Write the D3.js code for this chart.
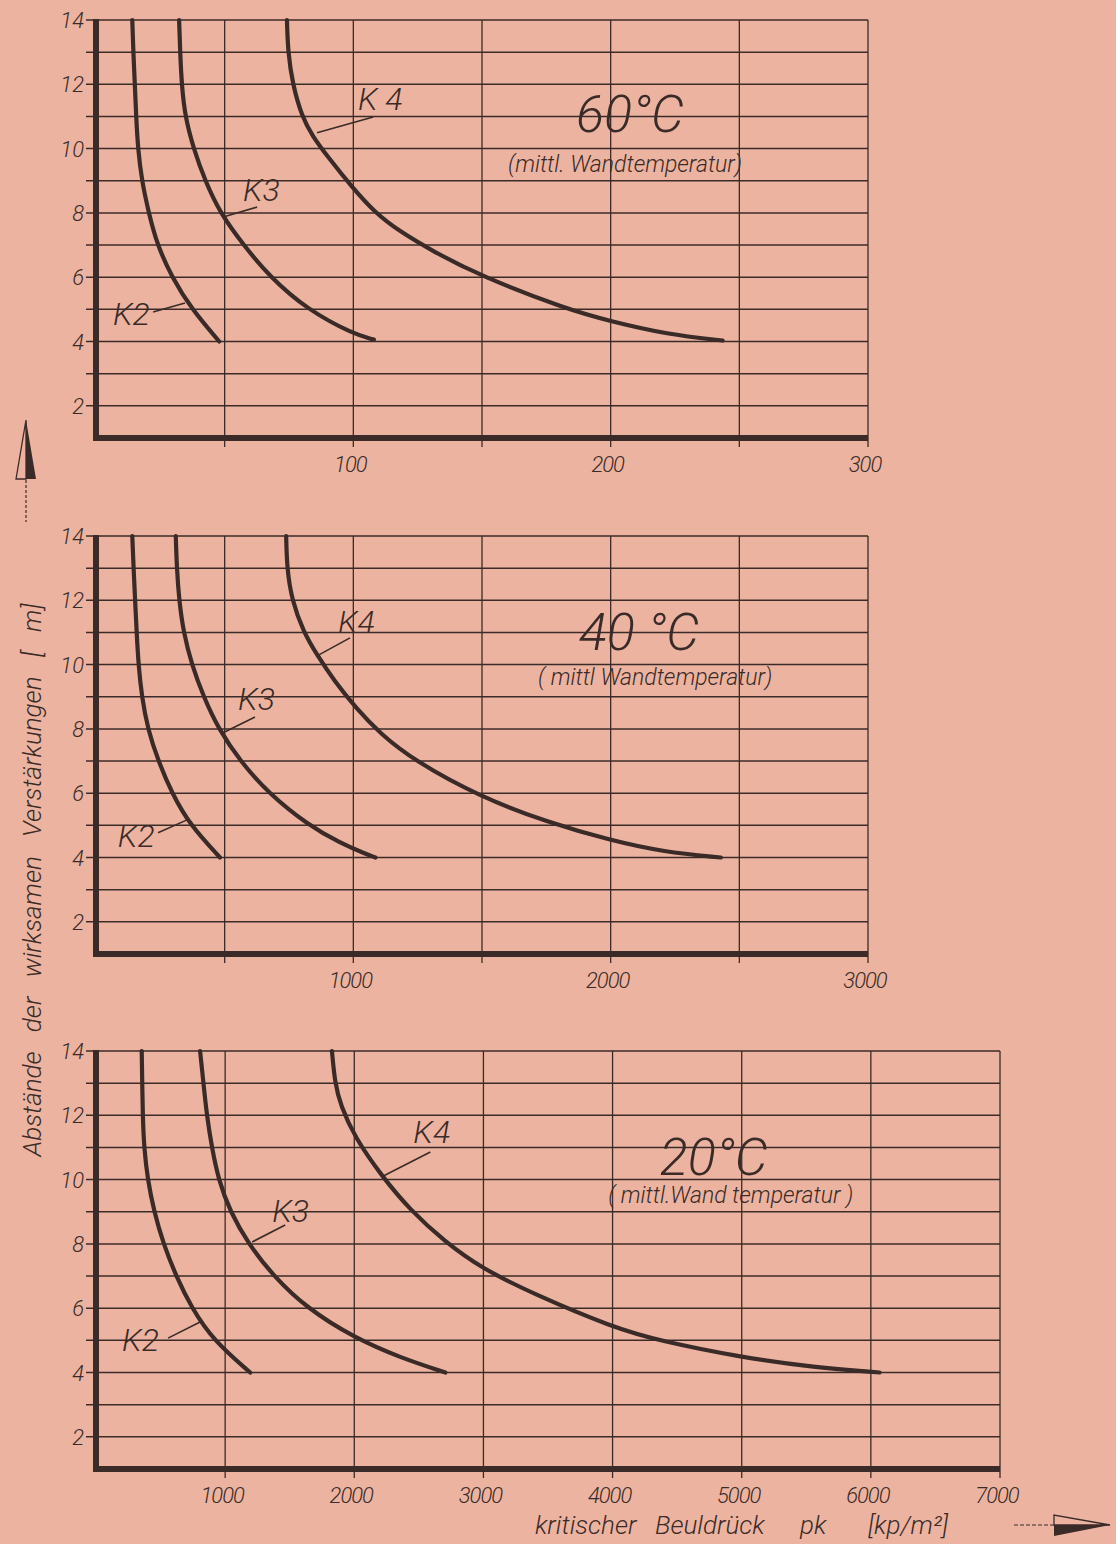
<!DOCTYPE html>
<html>
<head>
<meta charset="utf-8">
<script src="https://cdn.jsdelivr.net/npm/d3@7/dist/d3.min.js"></script>
<style>
  html, body { margin: 0; padding: 0; background: #ecb4a0; }
  svg { display: block; }
  text { font-family: Roboto, "DejaVu Sans Condensed", sans-serif; font-style: italic; font-weight: 300; fill: #3b2b28; }
</style>
</head>
<body>
<svg id="chart" width="1116" height="1544"></svg>
<script>
// curve points: [pressure, distance]
const k2_60 = [[14.1,14],[14.5,13],[15.1,12],[15.6,11],[16.3,10],[17.8,9],[20.5,8],[23.8,7],[29.5,6],[37.2,5],[47.9,4]];
const k3_60 = [[32.3,14],[32.7,13],[33.3,12],[34.6,11],[37.9,10],[42.4,9],[48.2,8],[57.3,7],[67.7,6],[82,5],[100,4.23],[108,4.06]];
const k4_60 = [[74.2,14],[74.6,13],[76.4,12],[80,11],[84,10.4],[90.5,9.7],[99.5,8.8],[108.5,8],[117.5,7.45],[131,6.8],[149.4,6.04],[183,5.0],[200,4.63],[222,4.22],[243.5,4.03]];

const k2_40 = [[141,14],[146,13],[152,12],[158,11],[165,10],[178,9],[201,8],[242,7],[295,6],[366,5],[482,4]];
const k3_40 = [[310,14],[314,13],[323,12],[340,11],[372,10],[418,9],[476,8],[560,7],[670,6],[826,5],[950,4.45],[1045,4.12],[1086,4.0]];
const k4_40 = [[739,14],[742,13],[761,12],[807,11],[859,10.3],[925,9.5],[1012,8.63],[1105,7.85],[1235,7.02],[1494,5.88],[1754,5.1],[2000,4.53],[2207,4.17],[2428,4.0]];

const k2_20 = [[354,14],[358,13],[362,12],[372,11],[400,10],[450,9],[522,8],[620,7],[742,6],[909,5],[1194,4]];
const k3_20 = [[806,14],[832,13],[858,12],[897,11],[948,10],[1039,9],[1180,8],[1374,7],[1633,6],[2000,5.08],[2357,4.46],[2705,4.0]];
const k4_20 = [[1827,14],[1850,13],[1895,12.3],[2000,11.34],[2214,10.1],[2434,9.05],[2693,8.1],[2990,7.23],[3390,6.44],[4003,5.4],[4372,4.98],[5000,4.47],[5564,4.16],[6067,4.0]];

const curveNames = ["K2", "K3", "K4"];
const yTickLabels = [2, 4, 6, 8, 10, 12, 14];
const xTicks60 = [100, 200, 300];
const xTicks40 = [1000, 2000, 3000];
const xTicks20 = [1000, 2000, 3000, 4000, 5000, 6000, 7000];
const titles = ["60°C", "40 °C", "20°C"];
const subtitles = ["(mittl. Wandtemperatur)", "( mittl Wandtemperatur)", "( mittl.Wand temperatur )"];
const yTitleWords = ["Abstände", "der", "wirksamen", "Verstärkungen", "[ m]"];
const xTitleWords = ["kritischer", "Beuldrück", "pk", "[kp/m²]"];
const xTitleStarts = [535, 655, 800, 868];

// label anchor [x, y], leader line [x1, y1, x2, y2] in data units
const labels60 = [[6.6,4.51,22.2,4.92,34.6,5.2],[57.1,8.37,62.6,8.18,49.4,7.87],[101.8,11.2,107.7,10.98,85.9,10.49]];
const labels40 = [[85,4.33,241,4.77,354,5.17],[552,8.59,618,8.37,494,7.88],[940,10.98,987,10.83,859,10.27]];
const labels20 = [[202,4.67,558,5.07,806,5.57],[1364,8.68,1465,8.59,1209,8.06],[2457,11.14,2589,10.86,2225,10.11]];
const titlePos60 = [207.5, 10.52, 205.6, 9.27];
const titlePos40 = [2110, 10.45, 2173, 9.36];
const titlePos20 = [4783, 10.14, 4915, 9.27];

const ink = "#3b2b28";
const svg = d3.select("#chart");

const panels = [
  {top: 20, right: 868, xmax: 300, gridStep: 50, ticks: xTicks60, curves: [k2_60, k3_60, k4_60], labels: labels60, title: titles[0], sub: subtitles[0], tpos: titlePos60},
  {top: 536, right: 868, xmax: 3000, gridStep: 500, ticks: xTicks40, curves: [k2_40, k3_40, k4_40], labels: labels40, title: titles[1], sub: subtitles[1], tpos: titlePos40},
  {top: 1051, right: 1000, xmax: 7000, gridStep: 1000, ticks: xTicks20, curves: [k2_20, k3_20, k4_20], labels: labels20, title: titles[2], sub: subtitles[2], tpos: titlePos20}
];

panels.forEach(p => {
  const x = d3.scaleLinear().domain([0, p.xmax]).range([96, p.right]);
  const y = d3.scaleLinear().domain([1, 14]).range([p.top + 13 * 32.15, p.top]);
  const g = svg.append("g");

  // horizontal grid with ticks sticking out left
  g.selectAll(".hgrid").data(d3.range(2, 15)).join("line")
    .attr("x1", 86).attr("x2", p.right)
    .attr("y1", d => y(d)).attr("y2", d => y(d))
    .attr("stroke", ink).attr("stroke-width", 1.5);

  // vertical grid
  const vg = d3.range(p.gridStep, p.xmax + 1, p.gridStep);
  g.selectAll(".vgrid").data(vg).join("line")
    .attr("x1", d => x(d)).attr("x2", d => x(d))
    .attr("y1", y(14)).attr("y2", y(1) + 9)
    .attr("stroke", ink).attr("stroke-width", 1.3);

  // thick axes
  g.append("line").attr("x1", 96).attr("x2", 96).attr("y1", y(14) - 1).attr("y2", y(1) + 3)
    .attr("stroke", ink).attr("stroke-width", 6);
  g.append("line").attr("x1", 93).attr("x2", p.right).attr("y1", y(1)).attr("y2", y(1))
    .attr("stroke", ink).attr("stroke-width", 6);

  // y labels
  g.selectAll(".ylab").data(yTickLabels).join("text")
    .attr("x", 84).attr("y", d => y(d) + 8)
    .attr("text-anchor", "end").attr("font-size", 22)
    .text(d => d);

  // x labels
  g.selectAll(".xlab").data(p.ticks).join("text")
    .attr("x", d => x(d) - 3).attr("y", y(1) + 34)
    .attr("text-anchor", "middle").attr("font-size", 22)
    .attr("letter-spacing", -1)
    .text(d => d);

  // curves
  const line = d3.line().x(d => x(d[0])).y(d => y(d[1])).curve(d3.curveBasis);
  g.selectAll(".curve").data(p.curves).join("path")
    .attr("d", line).attr("fill", "none")
    .attr("stroke", ink).attr("stroke-width", 4.2).attr("stroke-linecap", "round");

  // curve labels with leader lines
  p.labels.forEach((l, i) => {
    g.append("line")
      .attr("x1", x(l[2])).attr("y1", y(l[3])).attr("x2", x(l[4])).attr("y2", y(l[5]))
      .attr("stroke", ink).attr("stroke-width", 1.6);
    g.append("text").attr("x", x(l[0])).attr("y", y(l[1]))
      .attr("font-size", 32)
      .text(i === 2 && p.xmax === 300 ? "K 4" : curveNames[i]);
  });

  // title
  g.append("text").attr("x", x(p.tpos[0])).attr("y", y(p.tpos[1]))
    .attr("text-anchor", "middle").attr("font-size", 52)
    .text(p.title);
  g.append("text").attr("x", x(p.tpos[2])).attr("y", y(p.tpos[3]))
    .attr("text-anchor", "middle").attr("font-size", 23)
    .text(p.sub);
});

// y axis title and arrow
svg.append("text")
  .attr("transform", "translate(41,880) rotate(-90)")
  .attr("text-anchor", "middle").attr("font-size", 26)
  .attr("word-spacing", 13)
  .text(yTitleWords.join(" "));
svg.append("line").attr("x1", 26).attr("x2", 26).attr("y1", 480).attr("y2", 522)
  .attr("stroke", ink).attr("stroke-width", 1.2).attr("stroke-dasharray", "3,2");
svg.append("path").attr("d", "M26,420 L16,479 L26,479 Z").attr("fill", "none").attr("stroke", ink).attr("stroke-width", 1.3);
svg.append("path").attr("d", "M26,420 L36,479 L26,479 Z").attr("fill", ink);

// x axis title and arrow
svg.append("text")
  .attr("y", 1534)
  .attr("font-size", 26)
  .selectAll("tspan").data(xTitleWords).join("tspan")
  .attr("x", (d, i) => xTitleStarts[i])
  .text(d => d);
svg.append("line").attr("x1", 1014).attr("x2", 1054).attr("y1", 1525).attr("y2", 1525)
  .attr("stroke", ink).attr("stroke-width", 1.2).attr("stroke-dasharray", "4,2");
svg.append("path").attr("d", "M1110,1525 L1054,1515 L1054,1525 Z").attr("fill", "none").attr("stroke", ink).attr("stroke-width", 1.3);
svg.append("path").attr("d", "M1110,1525 L1054,1536 L1054,1525 Z").attr("fill", ink);
</script>
</body>
</html>
